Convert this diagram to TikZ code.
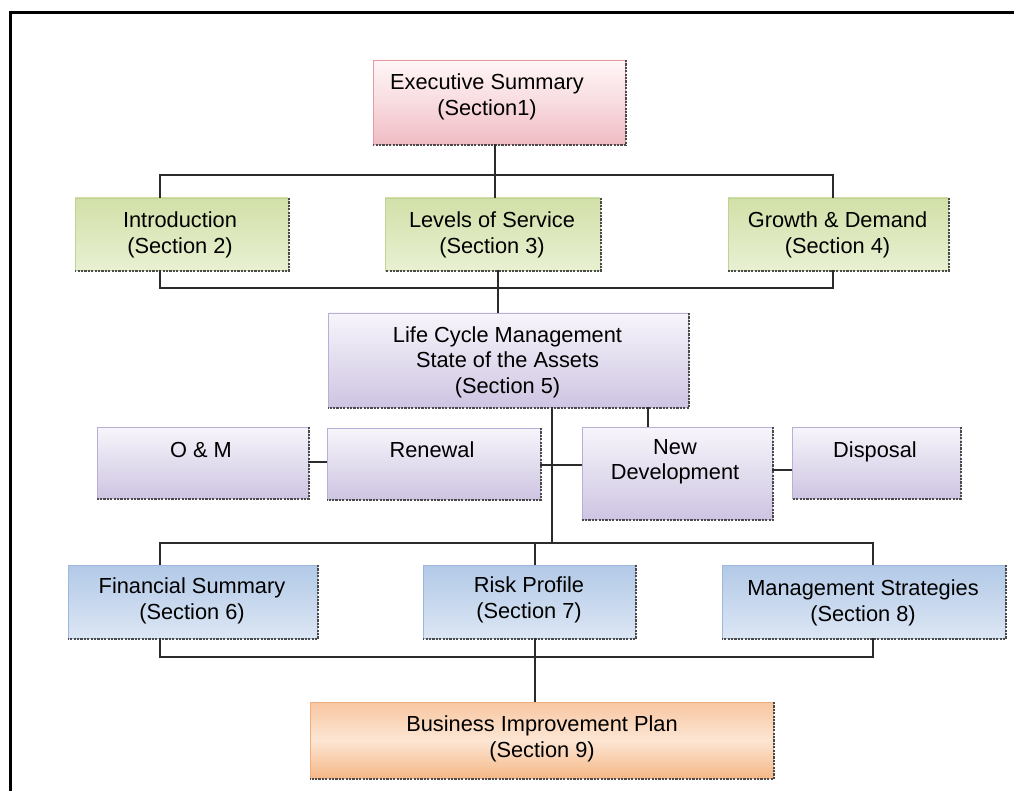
\documentclass[tikz,border=0pt]{standalone}
\usepackage{fontspec}
\setmainfont{Liberation Sans}
\definecolor{linec}{HTML}{2B2B2B}
\definecolor{shad}{HTML}{4A4A4A}
\definecolor{pinkB}{HTML}{E59AA4}
\definecolor{pinkT}{HTML}{FFF6F7}
\definecolor{pinkM}{HTML}{F8DCE0}
\definecolor{pinkL}{HTML}{F0BCC4}
\definecolor{greenB}{HTML}{BFD494}
\definecolor{greenT}{HTML}{D2E0A8}
\definecolor{greenL}{HTML}{E8F0D2}
\definecolor{purpB}{HTML}{B9AED6}
\definecolor{purpT}{HTML}{F7F5FB}
\definecolor{purpL}{HTML}{CEC5E2}
\definecolor{blueB}{HTML}{9DB8DC}
\definecolor{blueT}{HTML}{B2C9E7}
\definecolor{blueL}{HTML}{DCE6F4}
\definecolor{orB}{HTML}{F2AE7E}
\definecolor{orT}{HTML}{F8C6A0}
\definecolor{orM}{HTML}{FCE6D4}
\definecolor{orL}{HTML}{F5B888}
\begin{document}
\begin{tikzpicture}[x=1pt,y=-1pt,
  boxbase/.style={rectangle, inner sep=0pt, outer sep=0pt, line width=0.8pt},
  pinkbox/.style={boxbase, draw=pinkB, top color=pinkT, bottom color=pinkL, middle color=pinkM},
  greenbox/.style={boxbase, draw=greenB, top color=greenT, bottom color=greenL},
  purpbox/.style={boxbase, draw=purpB, top color=purpT, bottom color=purpL},
  bluebox/.style={boxbase, draw=blueB, top color=blueT, bottom color=blueL},
  orbox/.style={boxbase, draw=orB, top color=orT, bottom color=orL, middle color=orM},
  txt/.style={align=center, inner sep=0pt, font=\fontsize{21.8}{25.5}\selectfont},
  conn/.style={draw=linec, line width=1.8pt},
  shadowline/.style={draw=shad, line width=2.4pt, dash pattern=on 2.2pt off 1.2pt}
]
\useasboundingbox (0,0) rectangle (1014,791);
\fill[white] (0,0) rectangle (1014,791);
% frame
\draw[line width=3pt, black] (10,791) -- (10,13) -- (1014,13);

% boxes
\node[pinkbox, minimum width=252pt, minimum height=84pt] (exec) at (499,102) {};
\node[greenbox, minimum width=213pt, minimum height=72pt] (intro) at (181.5,234) {};
\node[greenbox, minimum width=215pt, minimum height=72pt] (los) at (492.5,234) {};
\node[greenbox, minimum width=220pt, minimum height=72pt] (growth) at (838,234) {};
\node[purpbox, minimum width=360pt, minimum height=94pt] (lcm) at (508,360) {};
\node[purpbox, minimum width=211pt, minimum height=71pt] (om) at (202.5,462.5) {};
\node[purpbox, minimum width=213pt, minimum height=71pt] (renewal) at (433.5,463.5) {};
\node[purpbox, minimum width=190pt, minimum height=92pt] (newdev) at (677,473) {};
\node[purpbox, minimum width=168pt, minimum height=71pt] (disposal) at (876,462.5) {};
\node[bluebox, minimum width=249pt, minimum height=73pt] (fin) at (192.5,601.5) {};
\node[bluebox, minimum width=212pt, minimum height=73pt] (risk) at (529,601.5) {};
\node[bluebox, minimum width=283pt, minimum height=73pt] (mgmt) at (863.5,601.5) {};
\node[orbox, minimum width=463pt, minimum height=76pt] (bip) at (541.5,740) {};

\foreach \n in {exec,intro,los,growth,lcm,om,renewal,newdev,disposal,fin,risk,mgmt,bip}
  \draw[shadowline] ([xshift=1pt]\n.north east) -- ([xshift=1pt,yshift=-1pt]\n.south east) -- ([yshift=-1pt]\n.south west);

% bus coordinates
\coordinate (b1l) at (160,175); \coordinate (b1r) at (833,175);
\coordinate (b2l) at (160,288); \coordinate (b2r) at (833,288);
\coordinate (v1) at (495,175);
\coordinate (v2) at (498,288);
\coordinate (b3l) at (160,543); \coordinate (b3r) at (873,543);
\coordinate (v3) at (552,543);
\coordinate (v4) at (535,543);
\coordinate (b4l) at (160,657); \coordinate (b4r) at (873,657);
\coordinate (v5) at (648,415);
\coordinate (h1) at (0,462);
\coordinate (h2) at (0,465);
\coordinate (h3) at (0,470);

% connectors
\draw[conn] (b1l |- intro.north) -- (b1l) -- (b1r) -- (b1r |- growth.north);
\draw[conn] (v1 |- exec.south) -- (v1 |- los.north);
\draw[conn] (b2l |- intro.south) -- (b2l) -- (b2r) -- (b2r |- growth.south);
\draw[conn] (v2 |- los.south) -- (v2 |- lcm.north);
\draw[conn] (v3 |- lcm.south) -- (v3);
\draw[conn] (v5 |- lcm.south) -- (v5 |- newdev.north);
\draw[conn] (om.east |- h1) -- (renewal.west |- h1);
\draw[conn] (renewal.east |- h2) -- (newdev.west |- h2);
\draw[conn] (newdev.east |- h3) -- (disposal.west |- h3);
\draw[conn] (b3l |- fin.north) -- (b3l) -- (b3r) -- (b3r |- mgmt.north);
\draw[conn] (v4) -- (v4 |- risk.north);
\draw[conn] (b4l |- fin.south) -- (b4l) -- (b4r) -- (b4r |- mgmt.south);
\draw[conn] (v4 |- risk.south) -- (v4 |- bip.north);

% texts
\node[txt] (exect) at (487,97) {Executive Summary\\(Section1)};
\node[txt] (introt) at (180,235) {Introduction\\(Section 2)};
\node[txt] (lost) at (492,235) {Levels of Service\\(Section 3)};
\node[txt] (growtht) at (837.5,235) {Growth \& Demand\\(Section 4)};
\node[txt] (lcmt) at (507.5,362) {Life Cycle Management\\State of the Assets\\(Section 5)};
\node[txt] (omt) at (201,450) {O \& M};
\node[txt] (renewalt) at (432,450) {Renewal};
\node[txt] (newdevt) at (675,462) {New\\Development};
\node[txt] (disposalt) at (875,452) {Disposal};
\node[txt] (fint) at (192,601) {Financial Summary\\(Section 6)};
\node[txt] (riskt) at (529,600) {Risk Profile\\(Section 7)};
\node[txt] (mgmtt) at (863,603) {Management Strategies\\(Section 8)};
\node[txt] (bipt) at (542,739) {Business Improvement Plan\\(Section 9)};
\end{tikzpicture}
\end{document}
